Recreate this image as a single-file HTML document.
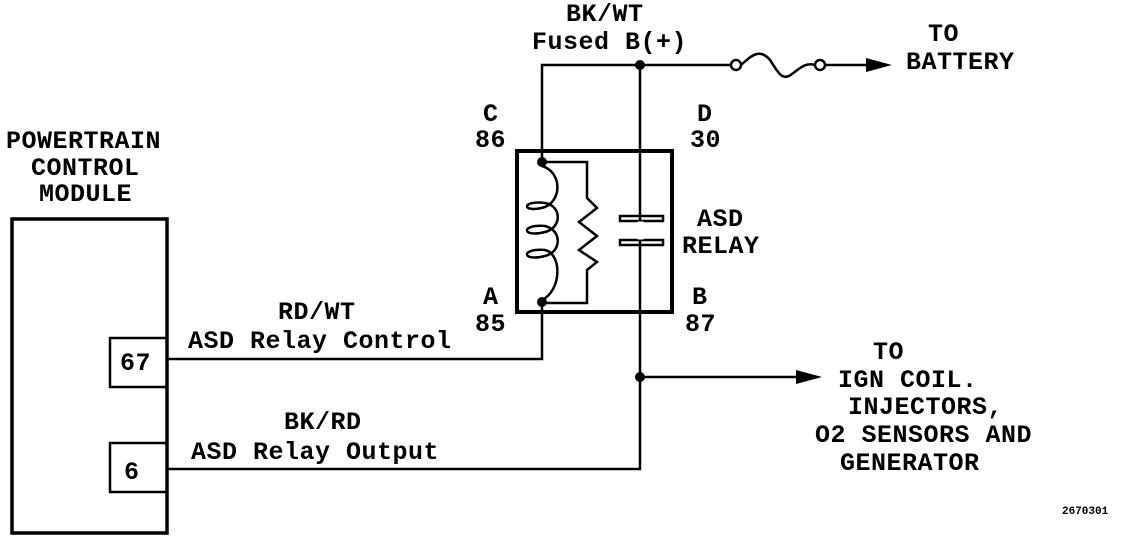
<!DOCTYPE html>
<html><head><style>
body{margin:0;background:#fff;}
svg{display:block}
text{font-family:"Liberation Mono","DejaVu Sans Mono",monospace;font-weight:bold;font-size:25px;letter-spacing:0.5px;fill:#000}
</style></head><body>
<svg width="1136" height="542" viewBox="0 0 1136 542" xmlns="http://www.w3.org/2000/svg">
<g fill="none" stroke="#000" stroke-width="2.5">
<rect x="12" y="219" width="155" height="314" stroke-width="3.5"/>
<rect x="110" y="338" width="57" height="49"/>
<rect x="110" y="443" width="57" height="49"/>
<rect x="517" y="151" width="155" height="161" stroke-width="4"/>
<polyline points="167,359 542,359 542,300"/>
<polyline points="167,469 640,469 640,65"/>
<polyline points="542,160 542,65 733,65"/>
<line x1="640" y1="377" x2="800" y2="377"/>
<line x1="826" y1="65" x2="870" y2="65"/>
<circle cx="736" cy="65" r="5" fill="#fff"/>
<circle cx="820" cy="65" r="5" fill="#fff"/>
<path d="M741,65 C752,55 760,48 770,60 C778,72 782,82 792,74 C800,68 806,62 815,65"/>
<path d="M542,166 C562,172 562,200 545,207 C522,214 520,200 545,203 C562,206 562,228 545,232 C522,238 520,224 545,226 C562,230 562,252 545,256 C522,262 520,248 545,250 C562,254 562,290 542,300"/>
<polyline points="542,162 587,162 587,198 597,208 579,222 597,236 579,250 597,262 587,270 587,303 542,303"/>
<rect x="620" y="216" width="43" height="5"/>
<rect x="620" y="240" width="43" height="5"/>
</g>
<g fill="#fff" stroke="#fff"><rect x="638" y="222" width="5" height="17"/></g>
<g fill="#000">
<circle cx="640" cy="65" r="5"/>
<circle cx="542" cy="162" r="5"/>
<circle cx="542" cy="302" r="5"/>
<circle cx="640" cy="377" r="5"/>
<polygon points="866,58 892,65 866,72"/>
<polygon points="796,370 822,377 796,384"/>
</g>
<text x="6" y="148">POWERTRAIN</text>
<text x="31" y="175">CONTROL</text>
<text x="39" y="201">MODULE</text>
<text x="120" y="370">67</text>
<text x="124" y="479">6</text>
<text x="278" y="319">RD/WT</text>
<text x="188" y="348">ASD Relay Control</text>
<text x="284" y="429">BK/RD</text>
<text x="191" y="459">ASD Relay Output</text>
<text x="566" y="21">BK/WT</text>
<text x="532" y="49">Fused B(+)</text>
<text x="483" y="121">C</text>
<text x="475" y="147">86</text>
<text x="697" y="121">D</text>
<text x="690" y="147">30</text>
<text x="697" y="226">ASD</text>
<text x="682" y="253">RELAY</text>
<text x="483" y="304">A</text>
<text x="475" y="331">85</text>
<text x="692" y="304">B</text>
<text x="685" y="331">87</text>
<text x="928" y="41">TO</text>
<text x="906" y="69">BATTERY</text>
<text x="873" y="359">TO</text>
<text x="838" y="387">IGN COIL.</text>
<text x="848" y="414">INJECTORS,</text>
<text x="815" y="442">O2 SENSORS AND</text>
<text x="840" y="470">GENERATOR</text>
<text x="1062" y="514" style="font-size:11px;letter-spacing:0">2670301</text>
</svg>
</body></html>
